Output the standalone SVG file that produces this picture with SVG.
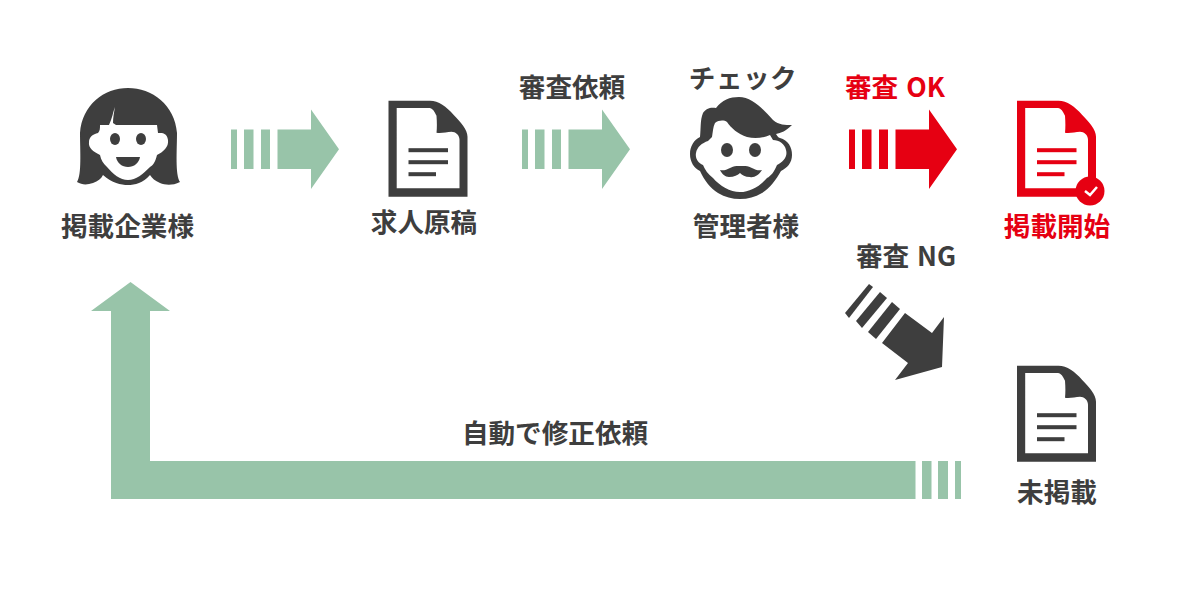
<svg xmlns="http://www.w3.org/2000/svg" width="1200" height="600" viewBox="0 0 1200 600">
<style>
.t{font-family:"Noto Sans CJK JP","Noto Sans",sans-serif;font-weight:700;font-size:26.600px;fill:#3e3e3e;text-anchor:middle}
.r{fill:#e60012}
.d{fill:#3e3e3e}
.g{fill:#98c4a9}
.w{fill:#fff}
</style>
<defs>
<path id="doc" fill-rule="evenodd" d="M0 0H41.500C50 0 58 6 65 14C72 21 79 29 79 36V96H0ZM8.200 7.300V87.500H71V39C71 34 67 31 63 31C58 31 53 33 48 32C48.500 27 48.500 22 48 15C46 11 44 7.300 41 7.300Z"/>
<g id="lines"><rect x="20" y="47.500" width="39.500" height="4"/><rect x="20" y="59.500" width="39.500" height="4"/><rect x="20" y="71.500" width="27.500" height="4"/></g>
<g id="ar"><rect x="0" y="20" width="6" height="39.500"/><rect x="13" y="20" width="9.500" height="39.500"/><rect x="30" y="20" width="9" height="39.500"/><path d="M46.500 20H80V0L108 39.800L80 79.500V59.500H46.500Z"/></g>
</defs>
<g id="connectors">
<use href="#ar" x="231" y="109.500" class="g"/>
<use href="#ar" x="522" y="109.500" class="g"/>
<use href="#ar" x="849" y="109.500" class="r"/>
<g class="d"><path d="M905 313L932 333L944 317L942 367L895 380L908 363L882 343Z"/><path d="M892 302L900 309L876 339L868 332Z"/><path d="M880 292L887 298L862 328L856 321Z"/><path d="M869 284L873 287L849 318L845 313Z"/></g>
<g class="g"><path d="M111 499V311H91L130.500 282L170 311H150V461H915.500V499Z"/><rect x="922" y="461" width="9.500" height="38"/><rect x="938" y="461" width="10" height="38"/><rect x="955" y="461" width="6" height="38"/></g>
</g>
<g id="client">
<path class="d" d="M77 182C82 175 80 150 80 133C82 105 104 88 128 88C152 88 175 105 177 133C177 150 175 175 180 182C172 186 165 185 160 183C155 181 152 178 150 175C143 183 135 185 128 185C121 185 112 183 103 175C101 179 98 181 93 183C87 185 82 185 77 182Z"/>
<path class="w" d="M100 125H109C112 119 113 112 115 107C114 112 113 118 113 123L116 125H157L158 133C163 133 167 133 168 140C169 147 163 152 157 155C155 163 153 165 150 167C143 174 136 180 128 180C120 180 113 174 107 167C103 163 101 160 100 155C94 152 88 148 89 142C89 137 93 134 98 133C100 131 100 128 100 125Z"/>
<ellipse class="d" cx="115" cy="139" rx="5" ry="6"/><ellipse class="d" cx="141" cy="139" rx="5" ry="6"/>
<path class="d" d="M116 157H140C139 163 134 167 128 167C122 167 117 163 116 157Z"/>
<text class="t" x="127.500" y="236">掲載企業様</text>
</g>
<g id="draft">
<g class="d" transform="translate(388.500 100.700)"><use href="#doc"/><use href="#lines"/></g>
<text class="t" x="424" y="232">求人原稿</text>
</g>
<g id="label-request"><text class="t" x="572" y="97">審査依頼</text></g>
<g id="admin">
<path class="d" d="M703 113C706 108 711 107 716 108C722 100 730 97 739 97C752 97 764 110 773 120C779 125 785 125 792 125C786 131 781 133 776 134C778 137 779 138 780 138C788 140 792 147 792 155C792 163 787 168 781 171C776 180 770 188 762 193C755 197 748 199 740 199C732 199 725 197 718 193C710 188 704 180 700 171C694 168 690 162 690 154C690 146 694 140 700 137C701 129 700 120 703 113Z"/>
<path class="w" d="M712 137C713 131 713 127 715 123C719 120 724 120 727 122C731 128 738 134 747 137C755 139 763 138 770 135L773 140C779 140 785 144 786 150C788 157 783 162 777 165C774 172 771 176 767 178C760 186 750 192 740 192C730 192 720 186 713 178C708 174 705 170 703 165C698 163 695 158 696 153C697 147 702 143 708 141Z"/>
<ellipse class="d" cx="727" cy="150" rx="6" ry="7"/><ellipse class="d" cx="755" cy="150" rx="6" ry="7"/>
<path class="d" d="M720 170C727 172 731 165 738 166C740 166 741 166 744 166C751 165 755 172 762 170C759 175 754 178 750 177C745 177 742 175 740 173C738 175 734 177 729 177C725 177 722 174 720 170Z"/>
<text class="t" x="743" y="87.500" style="letter-spacing:.5px">チェック</text>
<text class="t" x="746" y="236">管理者様</text>
</g>
<g id="label-ok"><text class="t r" x="895" y="97" style="word-spacing:2px">審査 OK</text></g>
<g id="published">
<g class="r" transform="translate(1017 100.700)"><use href="#doc"/><use href="#lines"/></g>
<circle class="r" cx="1090" cy="191" r="14.500"/>
<path d="M1085 191L1090 195L1097 187" fill="none" stroke="#fff" stroke-width="2.500"/>
<text class="t r" x="1057" y="236">掲載開始</text>
</g>
<g id="label-ng"><text class="t" x="906" y="266" style="word-spacing:2px">審査 NG</text></g>
<g id="unpublished">
<g class="d" transform="translate(1017 365.700)"><use href="#doc"/><use href="#lines"/></g>
<text class="t" x="1057" y="502">未掲載</text>
</g>
<g id="label-auto"><text class="t" x="555" y="443">自動で修正依頼</text></g>
</svg>
